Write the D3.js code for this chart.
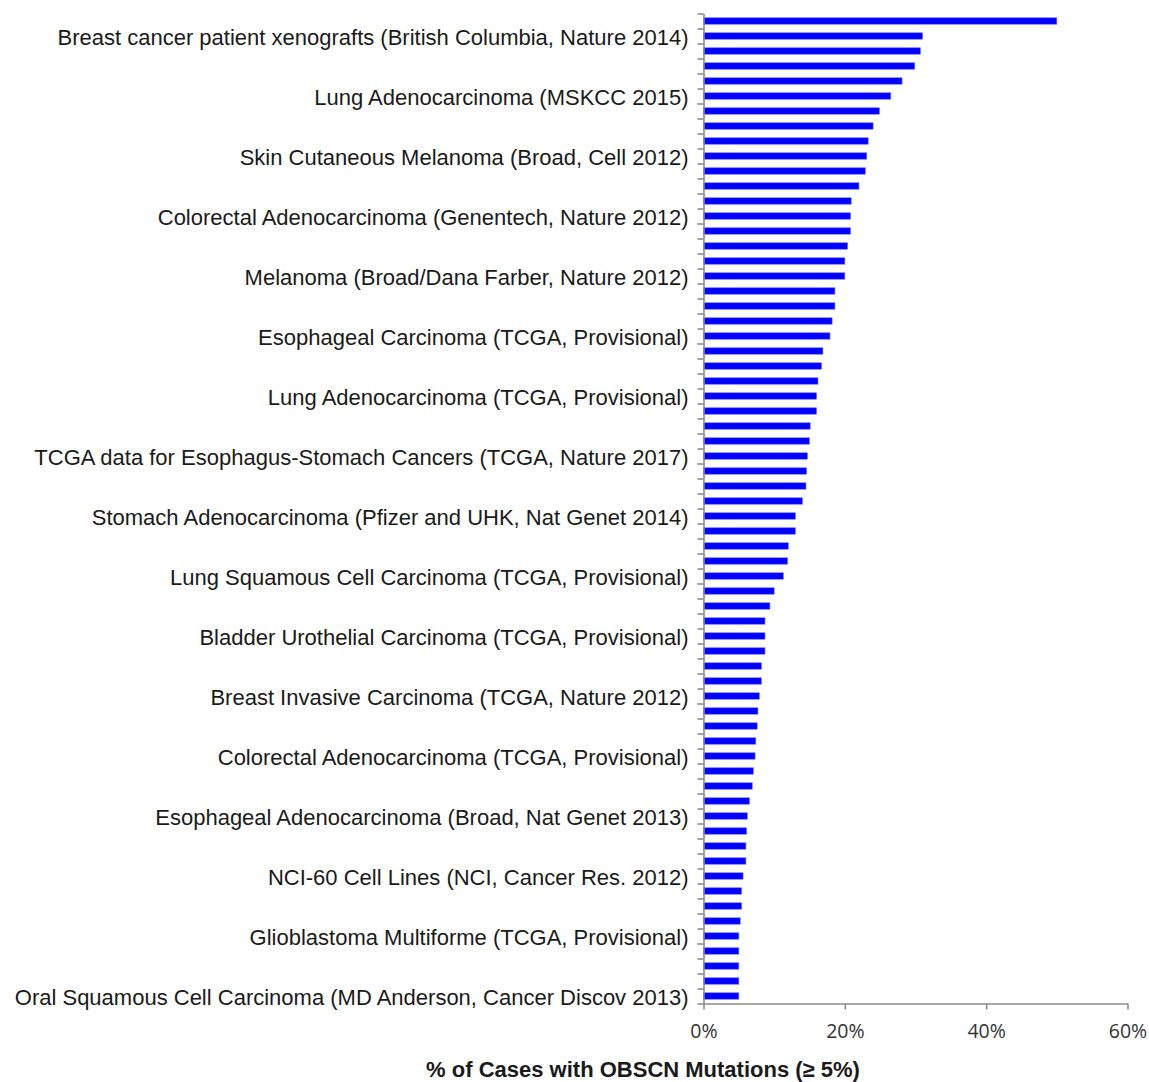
<!DOCTYPE html>
<html>
<head>
<meta charset="utf-8">
<script src="https://cdn.jsdelivr.net/npm/d3@7"></script>
<style>
body{margin:0;background:#fff;}
svg{display:block;}
</style>
</head>
<body>
<div id="chart"></div>
<script>
// % of cases with OBSCN mutations, one value per study (top to bottom)
var values=[50.0,31.0,30.7,29.9,28.1,26.5,24.9,24.0,23.3,23.1,
	22.9,22.0,20.9,20.8,20.8,20.4,20.0,20.0,18.6,18.6,
	18.2,17.9,16.9,16.7,16.2,16.0,16.0,15.1,15.0,14.7,
	14.6,14.5,14.0,13.0,13.0,12.0,11.9,11.3,10.0,9.4,
	8.7,8.7,8.7,8.2,8.2,7.9,7.7,7.6,7.4,7.3,
	7.05,6.9,6.5,6.2,6.1,6.0,6.0,5.6,5.4,5.4,
	5.2,5.0,5.0,5.0,5.0,5.0];
// only every 4th study name is printed on the chart
var labelIndex=[1,5,9,13,17,21,25,29,33,37,41,45,49,53,57,61,65];
var labelNames=["Breast cancer patient xenografts (British Columbia, Nature 2014)",
	"Lung Adenocarcinoma (MSKCC 2015)",
	"Skin Cutaneous Melanoma (Broad, Cell 2012)",
	"Colorectal Adenocarcinoma (Genentech, Nature 2012)",
	"Melanoma (Broad/Dana Farber, Nature 2012)",
	"Esophageal Carcinoma (TCGA, Provisional)",
	"Lung Adenocarcinoma (TCGA, Provisional)",
	"TCGA data for Esophagus-Stomach Cancers (TCGA, Nature 2017)",
	"Stomach Adenocarcinoma (Pfizer and UHK, Nat Genet 2014)",
	"Lung Squamous Cell Carcinoma (TCGA, Provisional)",
	"Bladder Urothelial Carcinoma (TCGA, Provisional)",
	"Breast Invasive Carcinoma (TCGA, Nature 2012)",
	"Colorectal Adenocarcinoma (TCGA, Provisional)",
	"Esophageal Adenocarcinoma (Broad, Nat Genet 2013)",
	"NCI-60 Cell Lines (NCI, Cancer Res. 2012)",
	"Glioblastoma Multiforme (TCGA, Provisional)",
	"Oral Squamous Cell Carcinoma (MD Anderson, Cancer Discov 2013)"];
var xTicks=[0,20,40,60];
var xTitle="% of Cases with OBSCN Mutations (\u2265 5%)";

var chartW=1149, chartH=1082;
var plotLeft=703.5, plotRight=1127.5, plotTop=13.5, plotBottom=1003.5;

var svg=d3.select("#chart").append("svg")
	.attr("width",chartW)
	.attr("height",chartH);

var x=d3.scaleLinear().domain([0,60]).range([plotLeft,plotRight]);
var y=d3.scaleLinear().domain([0,values.length]).range([plotTop,plotBottom]);
var barPad=0.285;

// bars
svg.append("g").selectAll("rect")
	.data(values)
	.enter().append("rect")
	.attr("x",x(0))
	.attr("y",function(d,i){return y(i+barPad);})
	.attr("width",function(d){return x(d)-x(0);})
	.attr("height",function(d,i){return y(i+1-barPad)-y(i+barPad);})
	.attr("fill","#0000ff")
	.attr("stroke","#6f6fff")
	.attr("stroke-width",0.6);

// y axis: tick marks between categories
var yAxis=svg.append("g")
	.attr("transform","translate("+plotLeft+",0)")
	.call(d3.axisLeft(y).tickValues(d3.range(0,values.length+1)).tickFormat("").tickSize(6).tickSizeOuter(0));
yAxis.selectAll("line").attr("stroke","#8c8c8c").attr("stroke-width",1.6);
yAxis.select(".domain").attr("stroke","#8c8c8c").attr("stroke-width",1.6);

// y labels
svg.append("g").selectAll("text")
	.data(labelIndex)
	.enter().append("text")
	.attr("x",plotLeft-15)
	.attr("y",function(d){return y(d+0.5)+1;})
	.attr("dy","0.35em")
	.attr("text-anchor","end")
	.attr("font-family","'Liberation Sans', Arial, sans-serif")
	.attr("font-size",22)
	.attr("fill","#1a1a1a")
	.text(function(d,i){return labelNames[i];});

// x axis
var xAxis=svg.append("g")
	.attr("transform","translate(0,"+plotBottom+")")
	.call(d3.axisBottom(x).tickValues(xTicks).tickFormat(function(d){return d+"%";}).tickSize(6).tickSizeOuter(0).tickPadding(15));
xAxis.selectAll("line").attr("stroke","#8c8c8c").attr("stroke-width",1.6);
xAxis.select(".domain").attr("stroke","#8c8c8c").attr("stroke-width",1.6);
xAxis.selectAll("text")
	.attr("font-family","'Open Sans', sans-serif")
	.attr("font-size",19.5)
	.attr("fill","#333");

svg.append("text")
	.attr("x",643)
	.attr("y",1077)
	.attr("text-anchor","middle")
	.attr("font-family","'Liberation Sans', Arial, sans-serif")
	.attr("font-weight","bold")
	.attr("font-size",22)
	.attr("fill","#1a1a1a")
	.text(xTitle);
</script>
</body>
</html>
